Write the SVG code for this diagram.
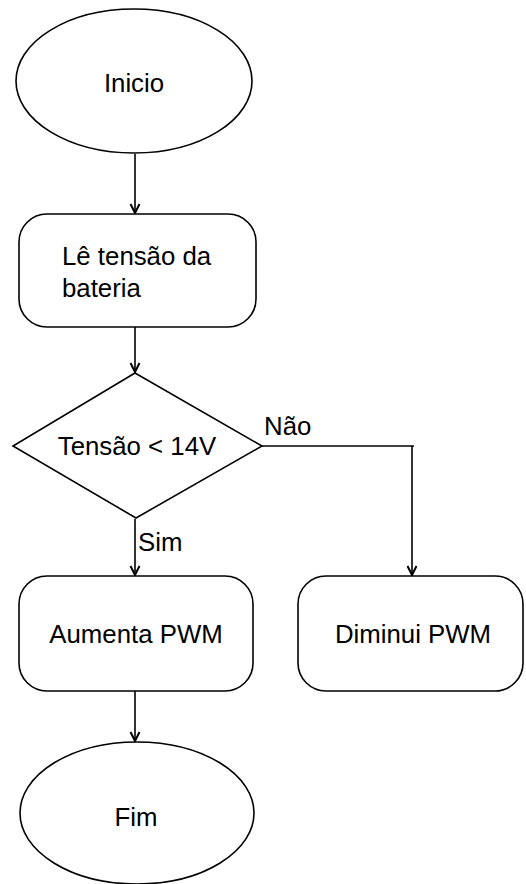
<svg xmlns="http://www.w3.org/2000/svg" width="526" height="884" viewBox="0 0 526 884">
  <style>
    .shape { fill: #ffffff; stroke: #000000; stroke-width: 1.6; }
    .label { font-family: "Liberation Sans", Arial, sans-serif; font-size: 25.8px; fill: #000000; }
    .edge { fill: none; stroke: #000000; stroke-width: 1.6; }
  </style>
  <defs>
    <marker id="arrow" markerWidth="12" markerHeight="12" refX="10" refY="6" orient="auto" markerUnits="userSpaceOnUse">
      <path d="M1,1.5 L10,6 L1,10.5" fill="none" stroke="#000000" stroke-width="2"/>
    </marker>
  </defs>

  <rect width="526" height="884" fill="#ffffff"/>

  <!-- connectors -->
  <g id="connectors">
    <line class="edge" x1="135" y1="154" x2="135" y2="213" marker-end="url(#arrow)"/>
    <line class="edge" x1="135" y1="327" x2="135" y2="372" marker-end="url(#arrow)"/>
    <polyline class="edge" points="262,446 414,446"/>
    <line class="edge" x1="412" y1="446" x2="412" y2="575" marker-end="url(#arrow)"/>
    <line class="edge" x1="135" y1="519" x2="135" y2="575" marker-end="url(#arrow)"/>
    <line class="edge" x1="135" y1="691" x2="135" y2="741" marker-end="url(#arrow)"/>
    <text class="label" x="264" y="435">Não</text>
    <text class="label" x="138" y="551">Sim</text>
  </g>

  <g id="inicio">
    <ellipse class="shape" cx="134" cy="81" rx="118" ry="72"/>
    <text class="label" x="134" y="92" text-anchor="middle">Inicio</text>
  </g>

  <g id="le-tensao">
    <rect class="shape" x="19" y="214" width="237" height="113" rx="28" ry="28"/>
    <text class="label" x="62" y="265">Lê tensão da</text>
    <text class="label" x="62" y="297">bateria</text>
  </g>

  <g id="decisao">
    <polygon class="shape" points="135,373 262,446 136,518 13,446"/>
    <text class="label" x="137" y="455" text-anchor="middle">Tensão &lt; 14V</text>
  </g>

  <g id="aumenta">
    <rect class="shape" x="19" y="576" width="234" height="115" rx="28" ry="28"/>
    <text class="label" x="136" y="643" text-anchor="middle">Aumenta PWM</text>
  </g>

  <g id="diminui">
    <rect class="shape" x="298" y="576" width="225" height="115" rx="28" ry="28"/>
    <text class="label" x="413" y="643" text-anchor="middle">Diminui PWM</text>
  </g>

  <g id="fim">
    <ellipse class="shape" cx="137" cy="813" rx="117" ry="71"/>
    <text class="label" x="136" y="826" text-anchor="middle">Fim</text>
  </g>
</svg>
